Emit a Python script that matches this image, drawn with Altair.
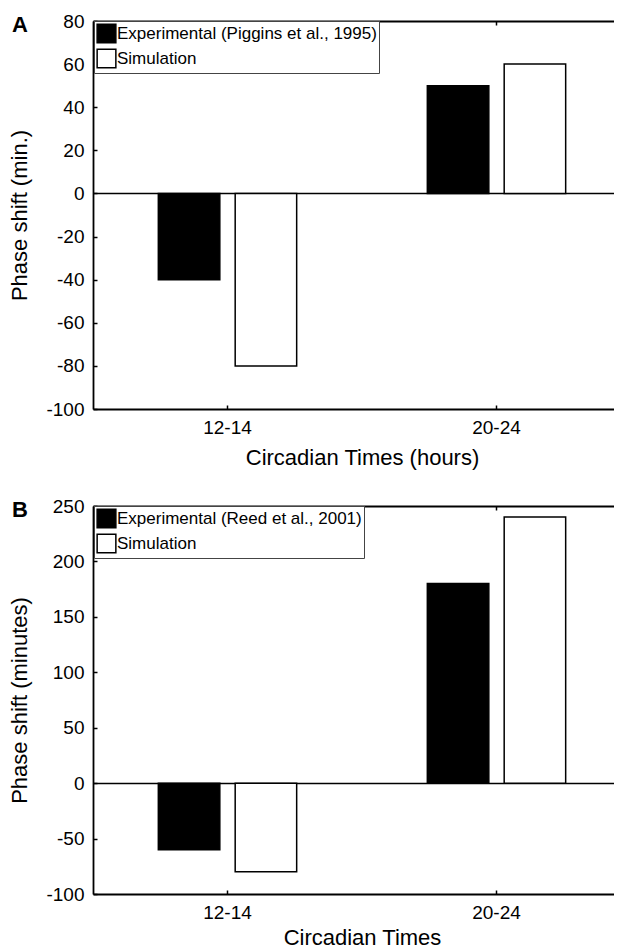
import altair as alt
import pandas as pd

categories = ["12-14", "20-24"]

series_a = ["Experimental (Piggins et al., 1995)", "Simulation"]
exp_a = [-40, 50]
sim_a = [-80, 60]
ticks_a = [-100, -80, -60, -40, -20, 0, 20, 40, 60, 80]

series_b = ["Experimental (Reed et al., 2001)", "Simulation"]
exp_b = [-60, 180]
sim_b = [-80, 240]
ticks_b = [-100, -50, 0, 50, 100, 150, 200, 250]

FONT = "Liberation Sans"
W = 538
H = 388


def make_df(series, exp, sim):
    rows = []
    for i, c in enumerate(categories):
        rows.append({"cat": c, "series": series[0], "value": exp[i]})
        rows.append({"cat": c, "series": series[1], "value": sim[i]})
    return pd.DataFrame(rows)


def panel(df, series, domain, ticks, ytitle, xtitle, letter, xtitle_pad):
    x_scale = alt.Scale(paddingInner=0, paddingOuter=0)
    y_scale = alt.Scale(domain=domain, nice=False, zero=False)
    base = alt.Chart(df)
    lo, hi = domain
    frame_test = f"datum.value === 0 || datum.value === {lo} || datum.value === {hi}"

    bars = base.mark_bar(stroke="black", strokeWidth=1.5).encode(
        x=alt.X(
            "cat:N",
            sort=categories,
            scale=x_scale,
            axis=alt.Axis(
                orient="bottom",
                title=xtitle,
                labelAngle=0,
                domain=False,
                tickSize={"expr": "-4"},
                tickColor="black",
                tickWidth=1.5,
                labelPadding=13,
                titlePadding=xtitle_pad,
            ),
        ),
        xOffset=alt.XOffset(
            "series:N",
            sort=series,
            scale=alt.Scale(paddingInner=0.2, paddingOuter=0.85),
        ),
        y=alt.Y(
            "value:Q",
            scale=y_scale,
            axis=alt.Axis(
                values=ticks,
                title=ytitle,
                grid=True,
                gridColor="black",
                gridWidth={"condition": {"test": "datum.value === 0", "value": 1.4}, "value": 1.8},
                gridOpacity={"condition": {"test": frame_test, "value": 1}, "value": 0},
                domain=True,
                domainColor="black",
                domainWidth=1.8,
                tickSize={"expr": "-4"},
                tickColor="black",
                tickWidth=1.5,
                labelPadding=13,
                titlePadding=14,
                labelExpr="toString(datum.value)",
            ),
        ),
        fill=alt.Fill(
            "series:N",
            scale=alt.Scale(domain=series, range=["black", "white"]),
            legend=alt.Legend(
                orient="none",
                legendX=1,
                legendY=0,
                title=None,
                symbolType="square",
                symbolSize=350,
                symbolStrokeColor="black",
                symbolStrokeWidth=1.5,
                labelFont=FONT,
                labelFontSize=17,
                labelColor="black",
                labelLimit=0,
                labelOffset=0,
                fillColor="white",
                strokeColor="#444",
                padding=2,
                rowPadding=0,
            ),
        ),
    )

    top_ticks = base.mark_rule(opacity=0).encode(
        x=alt.X(
            "cat:N",
            sort=categories,
            scale=x_scale,
            axis=alt.Axis(
                orient="top",
                labels=False,
                title=None,
                domain=False,
                tickSize={"expr": "-4"},
                tickColor="black",
                tickWidth=1.5,
            ),
        )
    )

    return (
        alt.layer(bars, top_ticks)
        .resolve_axis(x="independent")
        .properties(
            width=W,
            height=H,
            title=alt.TitleParams(
                letter,
                anchor="start",
                frame="group",
                dx=-81,
                offset=-42,
                fontSize=22,
                fontWeight="bold",
                font=FONT,
                color="black",
                baseline="alphabetic",
            ),
        )
    )


pa = panel(make_df(series_a, exp_a, sim_a), series_a, [-100, 80], ticks_a,
           "Phase shift (min.)", "Circadian Times (hours)", "A", 10)
pb = panel(make_df(series_b, exp_b, sim_b), series_b, [-100, 250], ticks_b,
           "Phase shift (minutes)", "Circadian Times", "B", 5)

chart = (
    alt.vconcat(pa, pb, spacing=29)
    .resolve_scale(fill="independent", xOffset="independent")
    .resolve_legend(fill="independent")
    .properties(padding={"left": 0, "top": 4, "right": -17, "bottom": 0})
    .configure_view(stroke=None)
    .configure_axis(
        labelFont=FONT,
        labelFontSize=19,
        labelColor="black",
        titleFont=FONT,
        titleFontSize=22,
        titleFontWeight="normal",
        titleColor="black",
    )
)

chart.save("out.html", embed_options={"renderer": "svg", "actions": False})
